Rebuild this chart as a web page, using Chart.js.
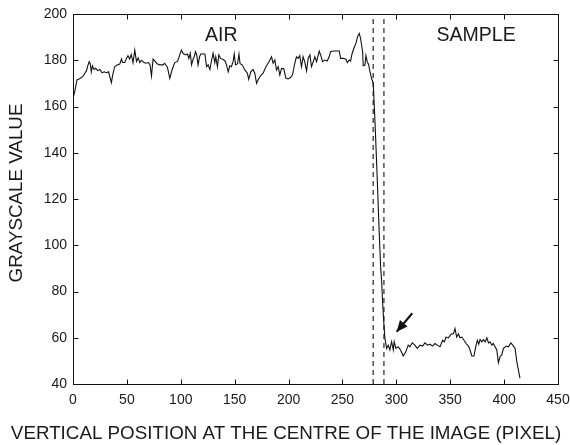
<!DOCTYPE html>
<html>
<head>
<meta charset="utf-8">
<script src="https://cdn.jsdelivr.net/npm/chart.js@4.4.1/dist/chart.umd.min.js"></script>
<style>
  html, body { margin: 0; padding: 0; background: #fff; }
  #wrap { width: 570px; height: 445px; }
</style>
</head>
<body>
<div id="wrap"><canvas id="chart" width="570" height="445"></canvas></div>
<script>
// grayscale profile along the vertical line through the image centre
const posX = [
  0, 1.6, 3.7, 6, 9.3, 11, 12.5, 14, 15, 16, 17, 18, 19.5, 21, 23, 25, 27, 29, 31, 33,
  35.6, 37, 38.7, 41, 43.4, 45, 46, 48, 49.6, 51, 52.5, 54, 55.7, 57.3, 58.9, 60.5, 62, 63.5, 66, 67.5,
  70, 71.5, 72.8, 74.3, 76, 78, 80.5, 83.5, 85, 87.6, 89.8, 92, 94.4, 97, 99, 100.6, 102, 104.5, 106.3, 107.5,
  108.8, 110, 111.6, 112.5, 113.6, 114.8, 116, 117.4, 118.6, 120.8, 122.4, 123.9, 125.4, 127, 128.6, 130, 131.6, 132.5, 134, 135.3,
  137, 139.4, 141, 142.4, 144, 145.5, 147, 148.6, 149.6, 150.8, 152.7, 154, 155, 157, 159.4, 161.8, 163, 165, 167, 168.7,
  170.3, 172, 174.4, 176.4, 179, 181, 182.7, 184.2, 185.7, 187.3, 188.8, 190.4, 191.9, 193.5, 195.6, 197.5, 199.6, 201.8, 203.6, 205.8,
  207.3, 208.9, 210.4, 212, 213.5, 215, 216.7, 218.2, 219.8, 221.3, 222.9, 224.4, 226, 228.4, 230, 231.5, 233.7, 235.8, 237.7, 239,
  241.5, 244.5, 247, 248.3, 250.8, 253.3, 254.5, 256.4, 257.6, 258.8, 260.6, 262.5, 264, 265.6, 266.8, 268.7, 269.3, 270.9, 271.8, 273,
  274.3, 275.5, 277, 278.6, 279.5, 280.5, 281.5, 282.5, 283.5, 284.5, 285.5, 286.3, 287.3, 288.3, 289.4, 291, 292.5, 294, 295.6, 297.2,
  298, 299.6, 301.7, 303.9, 306.4, 308.9, 311, 312.6, 314.8, 317.2, 319.4, 321.9, 324.4, 326.5, 329, 331.2, 333.6, 335.8, 338, 340.5,
  343, 344.6, 346, 348.3, 350, 351.4, 353, 354.4, 356, 357.6, 359, 360.7, 362.8, 364.7, 366.9, 368.4, 370, 372, 374, 375.2,
  376.5, 377.7, 379.3, 380.8, 382.4, 384, 385.5, 387, 388.6, 390, 391.6, 393.2, 394.7, 396.3, 397.8, 399.4, 401.9, 404, 406.3, 408,
  410.2, 411.8, 414.7
]
const grayVal = [
  163.5, 166.4, 171.5, 172, 173, 174.4, 175.5, 178, 179.4, 178.5, 175, 177.6, 176, 176.5, 175.5, 176, 174.6, 175, 174.6, 175,
  170.3, 174, 177.2, 178, 178.4, 180.5, 179, 179, 180.8, 182, 180.5, 182.5, 179, 184.4, 179.5, 181, 179, 180, 179, 178.7,
  179, 178, 173.2, 180.5, 179.6, 178.5, 178, 178, 178.7, 177, 172.2, 176, 179, 179.5, 182.3, 184.4, 183, 182.3, 182.7, 180.8,
  183, 178, 180.8, 181.5, 183.7, 182.3, 178, 181.5, 182.7, 182.7, 182.7, 177.2, 178, 176, 180, 183, 179, 181.5, 177.2, 182.3,
  180.8, 180.3, 179.7, 178, 175, 177.6, 177.2, 179.5, 182.7, 178, 178.5, 182.7, 178.5, 178, 175.8, 174.4, 171.8, 175, 176, 174.4,
  170, 171.8, 173.5, 174.4, 177.2, 178.7, 180.1, 181.5, 178.7, 180.1, 175.8, 177.2, 173.6, 176.5, 176.3, 172.2, 171.9, 172.5, 173.6, 178.7,
  181.5, 180.8, 182, 177.2, 181.5, 179.4, 175.4, 180.8, 182.3, 177.2, 179.4, 181.5, 179.4, 184, 182, 179.4, 180.1, 179.7, 181.5, 183.7,
  184, 184, 184, 180.8, 180.8, 180.5, 179, 180.1, 179.7, 182.6, 185.2, 187.3, 190.2, 191.6, 189.5, 183.7, 177.6, 177.9, 182, 179.4,
  178.2, 175.1, 172.2, 170, 160.6, 150, 138, 126, 113, 101, 90, 85, 75, 67, 59.7, 55.4, 56.8, 54.7, 58.3, 54.7,
  58.3, 55.4, 56.1, 54.7, 52.1, 54, 56.8, 56.1, 57.8, 56.8, 55.4, 56.8, 56.4, 57.8, 56.8, 57.2, 56.4, 57.5, 56.8, 56.1,
  58.9, 58.2, 60.3, 60, 61, 61.7, 61.7, 64, 60.3, 61.7, 60, 60.3, 58.9, 57.5, 56.4, 54.7, 52.1, 52.1, 56.8, 58.9,
  57.2, 59.2, 58.2, 59.2, 58.2, 60, 57.8, 58.2, 56.8, 57.5, 56.1, 54.7, 49.2, 51.9, 52.6, 55.4, 56.4, 56.1, 57.8, 56.8,
  55.4, 49.6, 42.5
]

// interface limits (dashed) and the marker arrow
const boundaryX = [278.5, 288.5]
const arrowX = [314.8, 300.3]
const arrowY = [70.6, 62.6]

// region labels
const regionNames = ['AIR', 'SAMPLE']
const regionX = [137.6, 374]
const regionY = [190.7, 190.7]

const xTitle = 'VERTICAL POSITION AT THE CENTRE OF THE IMAGE (PIXEL)'
const yTitle = 'GRAYSCALE VALUE'

const INK = '#111'
const FONT = '"Liberation Sans", Arial, sans-serif'

const boxPlugin = {
  id: 'boxPlugin',
  afterDatasetsDraw (chart) {
    const {ctx, chartArea: a, scales: {x, y}} = chart
    ctx.save()
    ctx.strokeStyle = INK
    ctx.lineWidth = 1
    const l = Math.round(a.left) + 0.5
    const r = Math.round(a.right) + 0.5
    const t = Math.round(a.top) + 0.5
    const b = Math.round(a.bottom) + 0.5
    ctx.strokeRect(l, t, r - l, b - t)

    // inward ticks on all four sides
    const tl = 5
    ctx.beginPath()
    x.ticks.forEach((tk) => {
      const px = Math.round(x.getPixelForValue(tk.value)) + 0.5
      ctx.moveTo(px, b); ctx.lineTo(px, b - tl)
      ctx.moveTo(px, t); ctx.lineTo(px, t + tl)
    })
    y.ticks.forEach((tk) => {
      const py = Math.round(y.getPixelForValue(tk.value)) + 0.5
      ctx.moveTo(l, py); ctx.lineTo(l + tl, py)
      ctx.moveTo(r, py); ctx.lineTo(r - tl, py)
    })
    ctx.stroke()

    // arrow head
    const x0 = x.getPixelForValue(arrowX[0])
    const y0 = y.getPixelForValue(arrowY[0])
    const x1 = x.getPixelForValue(arrowX[1])
    const y1 = y.getPixelForValue(arrowY[1])
    const ang = Math.atan2(y1 - y0, x1 - x0)
    const hl = 11
    const hw = 5
    ctx.fillStyle = INK
    ctx.beginPath()
    ctx.moveTo(x1, y1)
    ctx.lineTo(x1 - hl * Math.cos(ang) + hw * Math.sin(ang), y1 - hl * Math.sin(ang) - hw * Math.cos(ang))
    ctx.lineTo(x1 - hl * Math.cos(ang) - hw * Math.sin(ang), y1 - hl * Math.sin(ang) + hw * Math.cos(ang))
    ctx.closePath()
    ctx.fill()

    // region names
    ctx.fillStyle = '#1a1a1a'
    ctx.font = '19.5px ' + FONT
    ctx.textAlign = 'center'
    ctx.textBaseline = 'middle'
    regionNames.forEach((name, i) => {
      ctx.fillText(name, x.getPixelForValue(regionX[i]), y.getPixelForValue(regionY[i]))
    })

    // axis titles
    ctx.font = '18.8px ' + FONT
    ctx.fillText(xTitle, 286, 434)
    ctx.translate(16.5, 193)
    ctx.rotate(-Math.PI / 2)
    ctx.fillText(yTitle, 0, 0)
    ctx.restore()
  }
}

const profile = posX.map((v, i) => ({x: v, y: grayVal[i]}))
const dashSets = boundaryX.map((bx) => ({
  data: [{x: bx, y: 40}, {x: bx, y: 200}],
  borderColor: INK,
  borderWidth: 1.1,
  borderDash: [5, 4],
  pointRadius: 0
}))

new Chart('chart', {
  type: 'line',
  data: {
    datasets: [
      {
        data: profile,
        borderColor: INK,
        borderWidth: 1.1,
        pointRadius: 0,
        tension: 0
      },
      ...dashSets,
      {
        data: arrowX.map((v, i) => ({x: v, y: arrowY[i]})),
        borderColor: INK,
        borderWidth: 2,
        pointRadius: 0
      }
    ]
  },
  options: {
    responsive: false,
    animation: false,
    events: [],
    layout: {padding: {top: 14, right: 12, left: 0, bottom: 0}},
    plugins: {legend: {display: false}, tooltip: {enabled: false}},
    scales: {
      x: {
        type: 'linear',
        min: 0,
        max: 450,
        grid: {display: false, drawTicks: false},
        border: {display: false},
        ticks: {stepSize: 50, color: '#1a1a1a', padding: 8, maxRotation: 0, font: {family: FONT, size: 14}},
        afterFit: (s) => {
          s.height = 61
          s.paddingLeft = 0
          s.paddingRight = 0
        }
      },
      y: {
        min: 40,
        max: 200,
        grid: {display: false, drawTicks: false},
        border: {display: false},
        ticks: {stepSize: 20, color: '#1a1a1a', padding: 6, font: {family: FONT, size: 14}},
        afterFit: (s) => {
          s.width = 73
          s.paddingTop = 0
          s.paddingBottom = 0
        }
      }
    }
  },
  plugins: [boxPlugin]
})
</script>
</body>
</html>
